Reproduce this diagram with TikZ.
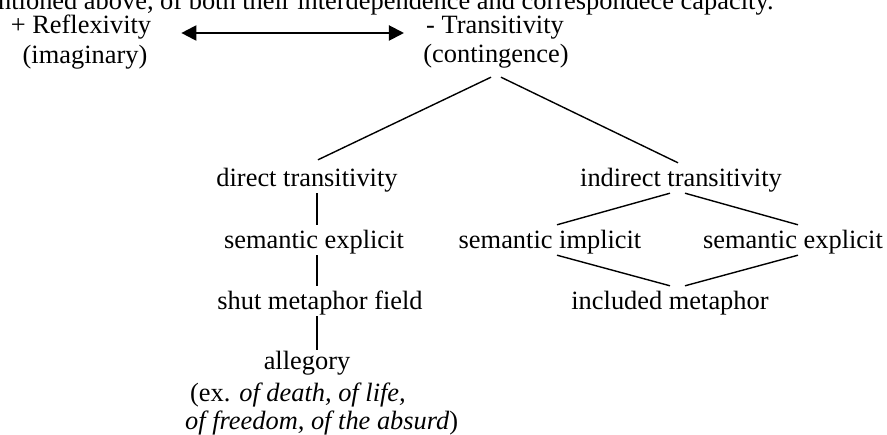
\documentclass[tikz,border=0pt]{standalone}
\usepackage{fontspec}
\setmainfont{Liberation Serif}
\usetikzlibrary{arrows.meta, positioning}
\tikzstyle{concept} = [inner sep=0pt, text height=24pt, text depth=6pt]
\tikzstyle{branch} = [line width=1.4pt]
\tikzstyle{arrow} = [line width=2pt, {Triangle[length=15pt,width=15pt]}-{Triangle[length=15pt,width=15pt]}]

\begin{document}
\begin{tikzpicture}[x=1pt, y=-1pt, node distance=62pt, font=\fontsize{26.4}{28}\selectfont]
    \clip (0,0) rectangle (887,435);
    \node (intro) [anchor=base east] at (777,10) {mentioned above, of both their interdependence and correspondece capacity.};
    \node (refl) [concept] at (81,25) {+ Reflexivity};
    \node (imag) [concept, below of=refl, xshift=4pt, node distance=30pt] {(imaginary)};
    \node (trans) [concept] at (495,25) {- Transitivity};
    \node (cont) [concept, below of=trans, xshift=1pt, node distance=29pt] {(contingence)};
    \node (dt) [concept] at (307,178) {direct transitivity};
    \node (se1) [concept, below of=dt, xshift=7pt] {semantic explicit};
    \node (smf) [concept, below of=se1, xshift=6pt, node distance=61pt] {shut metaphor field};
    \node (alleg) [concept, below of=smf, xshift=-13pt, node distance=60pt] {allegory};
    \node (ex1) [anchor=base west, inner sep=0pt] at (190,402) {(ex. \textit{of death, of life,}};
    \node (ex2) [anchor=base west, inner sep=0pt] at (185,430) {\textit{of freedom, of the absurd})};
    \node (it) [concept] at (681,178) {indirect transitivity};
    \node (si) [concept, below of=it, xshift=-131pt] {semantic implicit};
    \node (se2) [concept, below of=it, xshift=112pt] {semantic explicit};
    \node (im) [concept, below of=it, xshift=-11pt, node distance=123pt] {included metaphor};
    \coordinate (col) at (317,0);

    \draw [arrow] ([xshift=30pt, yshift=1pt]refl.base east) -- ([xshift=-22pt, yshift=1pt]trans.base west);
    \draw [branch] ([xshift=-5pt, yshift=-8pt]cont.south) -- ([xshift=11pt, yshift=3pt]dt.north);
    \draw [branch] ([xshift=5pt, yshift=-8pt]cont.south) -- ([xshift=-3pt]it.north);
    \draw [branch] (dt.south -| col) -- (se1.north -| col);
    \draw [branch] (se1.south -| col) -- (smf.north -| col);
    \draw [branch] (smf.south -| col) -- ([yshift=-4pt]alleg.north -| col); % allegory sits lower
    \draw [branch] ([xshift=-11pt]it.south) -- ([xshift=7pt]si.north);
    \draw [branch] ([xshift=4pt]it.south) -- ([xshift=5pt]se2.north);
    \draw [branch] ([xshift=7pt]si.south) -- (im.north);
    \draw [branch] ([xshift=5pt]se2.south) -- ([xshift=15pt]im.north);
\end{tikzpicture}
\end{document}
